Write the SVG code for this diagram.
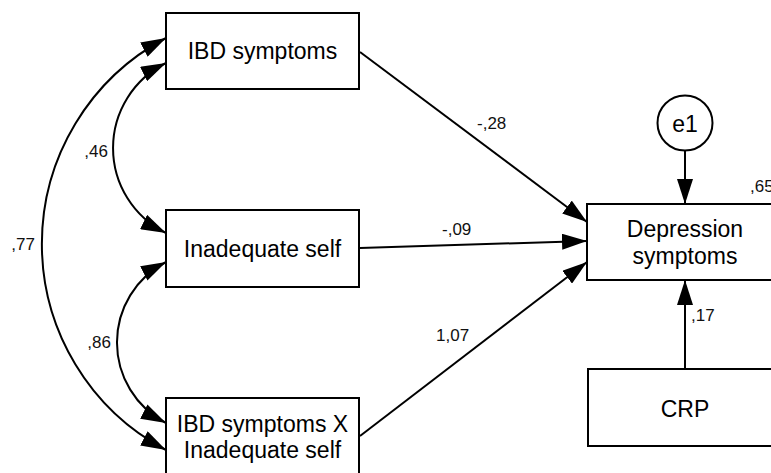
<svg xmlns="http://www.w3.org/2000/svg" width="771" height="473" viewBox="0 0 771 473">
  <style>
    .box { fill: #fff; stroke: #000; stroke-width: 2; }
    .name { font-family: "Liberation Sans", Arial, sans-serif; font-size: 23px; fill: #000; text-anchor: middle; }
    .coef { font-family: "Liberation Sans", Arial, sans-serif; font-size: 17px; fill: #111; }
    .edge { fill: none; stroke: #000; stroke-width: 2; marker-end: url(#head); }
    .cov { fill: none; stroke: #000; stroke-width: 2; marker-start: url(#head); marker-end: url(#head); }
  </style>
  <defs>
    <marker id="head" viewBox="0 0 25 16" refX="25" refY="8" markerWidth="25" markerHeight="16" markerUnits="userSpaceOnUse" orient="auto-start-reverse">
      <path d="M0,0 L25,8 L0,16 Z" fill="#000"/>
    </marker>
  </defs>
  <rect width="771" height="473" fill="#fff"/>

  <g id="connectors">
    <!-- covariances between the predictors -->
    <path class="cov" d="M166,38 A233,233 0 0 0 166,450"/>
    <path class="cov" d="M166,63 A94.7,94.7 0 0 0 166,233"/>
    <path class="cov" d="M166,262 A90.6,90.6 0 0 0 166,423"/>
    <!-- regression paths -->
    <path class="edge" d="M360,52 L587,222"/>
    <path class="edge" d="M360,248 L587,241"/>
    <path class="edge" d="M360,436 L587,262"/>
    <path class="edge" d="M685,151 L685,204"/>
    <path class="edge" d="M685,369 L685,280"/>
    <!-- coefficients -->
    <text class="coef" x="108" y="157" text-anchor="end">,46</text>
    <text class="coef" x="35" y="250" text-anchor="end">,77</text>
    <text class="coef" x="111" y="348" text-anchor="end">,86</text>
    <text class="coef" x="477" y="129">-,28</text>
    <text class="coef" x="442" y="235">-,09</text>
    <text class="coef" x="436" y="341">1,07</text>
    <text class="coef" x="691" y="321">,17</text>
    <text class="coef" x="750" y="192">,65</text>
  </g>

  <g id="ibd">
    <rect class="box" x="166" y="13" width="193" height="76"/>
    <text class="name" x="262.5" y="59">IBD symptoms</text>
  </g>
  <g id="inadequate">
    <rect class="box" x="166" y="210" width="193" height="77"/>
    <text class="name" x="262.5" y="257">Inadequate self</text>
  </g>
  <g id="interaction">
    <rect class="box" x="166" y="398" width="193" height="80"/>
    <text class="name" x="262.5" y="432">IBD symptoms X</text>
    <text class="name" x="262.5" y="458">Inadequate self</text>
  </g>
  <g id="depression">
    <rect class="box" x="587" y="204" width="200" height="76"/>
    <text class="name" x="685" y="237">Depression</text>
    <text class="name" x="685" y="264">symptoms</text>
  </g>
  <g id="crp">
    <rect class="box" x="588" y="369" width="200" height="77"/>
    <text class="name" x="685" y="417">CRP</text>
  </g>
  <g id="e1">
    <circle cx="685" cy="123" r="27.5" fill="#fff" stroke="#000" stroke-width="2"/>
    <text class="name" x="685" y="132">e1</text>
  </g>
</svg>
